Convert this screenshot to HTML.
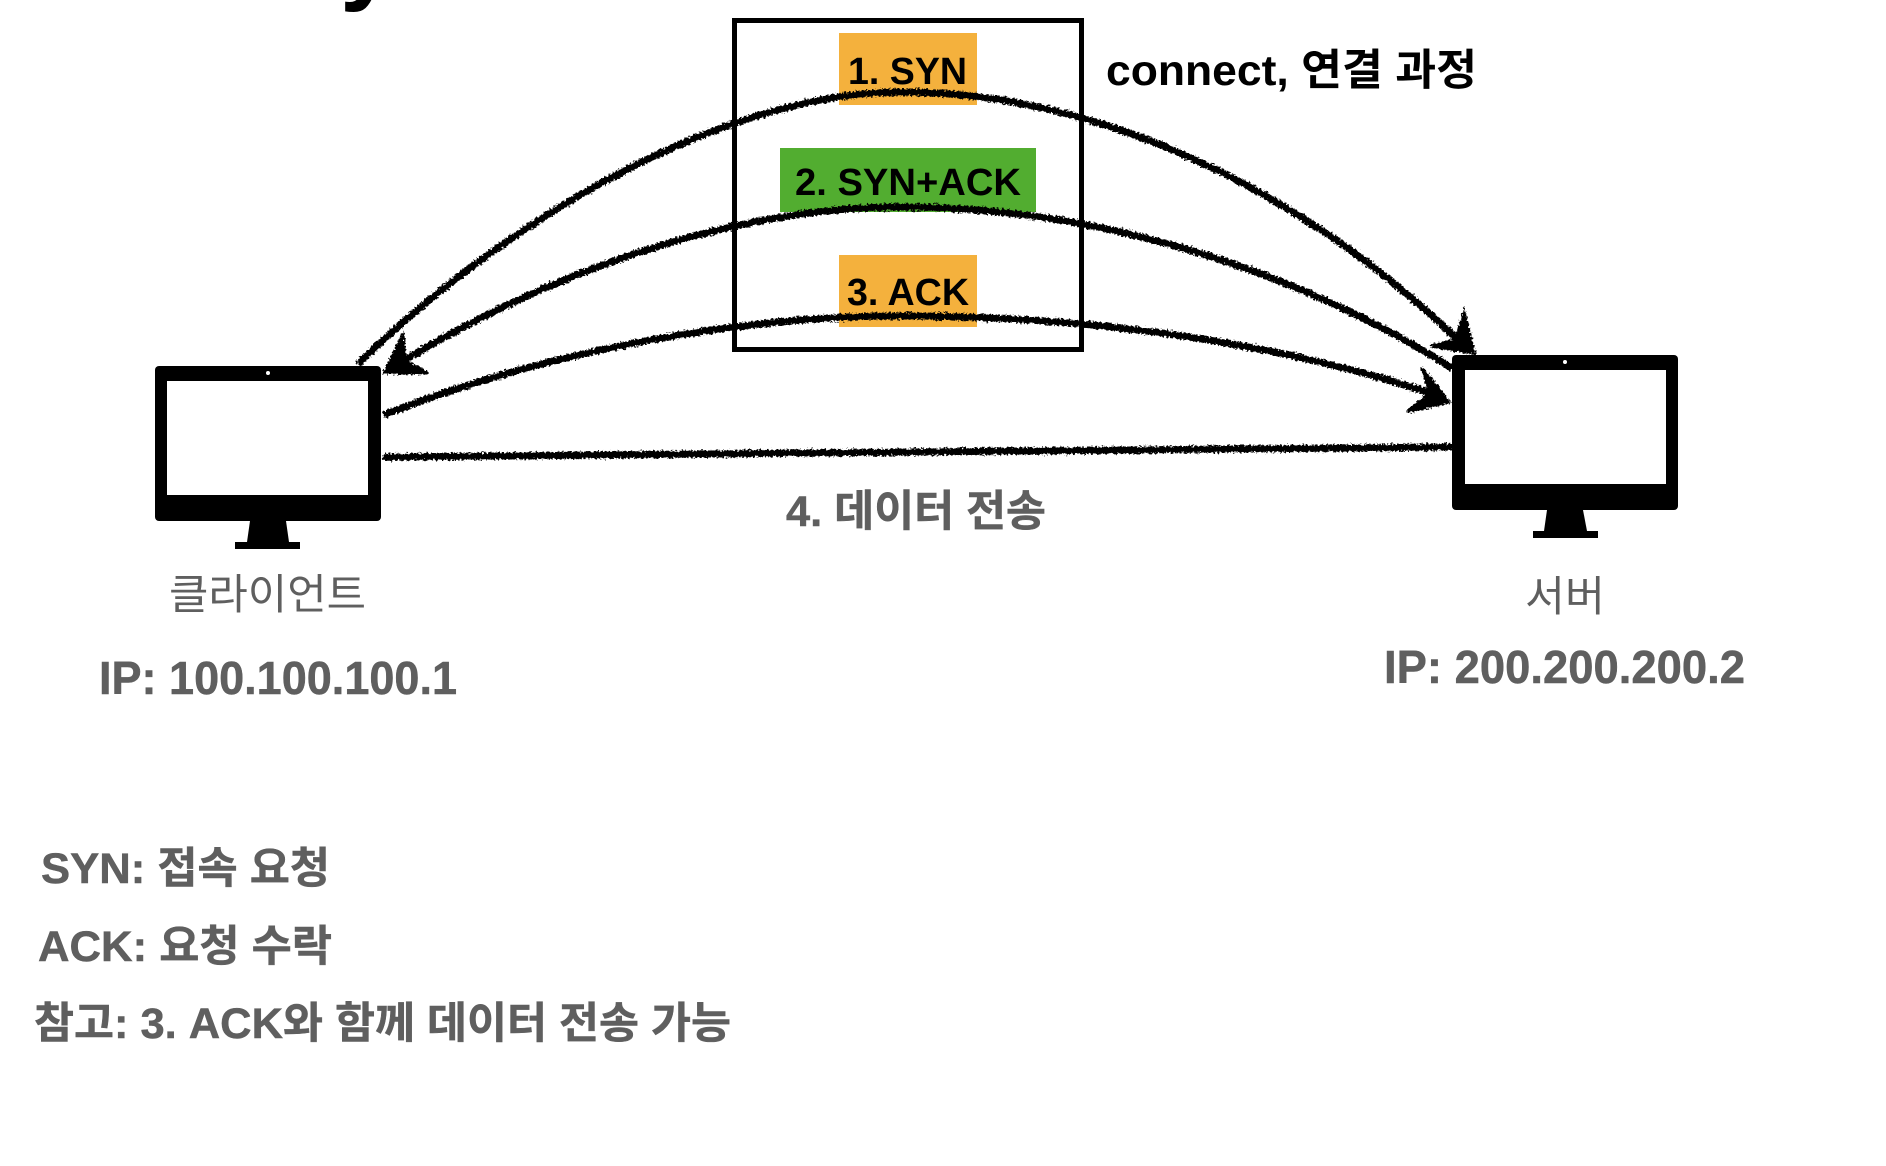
<!DOCTYPE html>
<html lang="ko">
<head>
<meta charset="utf-8">
<title>TCP 3 way handshake</title>
<style>
html,body{margin:0;padding:0;background:#fff;width:1886px;height:1166px;overflow:hidden}
svg{display:block}
text{font-family:"Liberation Sans","Noto Sans CJK KR",sans-serif;font-weight:700}
.g{fill:#5f5f5f;stroke:#5f5f5f;stroke-width:.5}
.r{font-weight:400;fill:#5f5f5f}
</style>
</head>
<body>
<svg width="1886" height="1166" viewBox="0 0 1886 1166" xmlns="http://www.w3.org/2000/svg">
<defs>
<filter id="rough" filterUnits="userSpaceOnUse" x="0" y="0" width="1886" height="1166">
<feTurbulence type="fractalNoise" baseFrequency="0.45" numOctaves="2" seed="4" result="n"/>
<feDisplacementMap in="SourceGraphic" in2="n" scale="6" xChannelSelector="R" yChannelSelector="G"/>
</filter>
</defs>
<rect width="1886" height="1166" fill="#fff"/>
<text x="340" y="-9" font-size="100" fill="#000">y</text>

<rect x="734.5" y="20.5" width="347" height="329" fill="none" stroke="#000" stroke-width="5"/>
<rect x="839" y="33" width="138" height="72" fill="#F4B13D"/>
<rect x="780" y="148" width="256" height="64" fill="#52AD30"/>
<rect x="839" y="255" width="138" height="72" fill="#F4B13D"/>

<text x="848" y="84" font-size="38" fill="#000" textLength="119" lengthAdjust="spacingAndGlyphs">1. SYN</text>
<text x="795" y="195" font-size="38" fill="#000" textLength="226" lengthAdjust="spacingAndGlyphs">2. SYN+ACK</text>
<text x="847" y="305" font-size="38" fill="#000" textLength="122" lengthAdjust="spacingAndGlyphs">3. ACK</text>
<text x="1106" y="85" font-size="43" fill="#000" textLength="371" lengthAdjust="spacingAndGlyphs">connect, 연결 과정</text>

<g filter="url(#rough)" fill="none" stroke="#000" stroke-width="7" stroke-linecap="round">
<path d="M360 362C500 225 720 92 902 92C1120 92 1330 212 1466 348"/>
<path d="M1450 367C1300 272 1100 207 902 207C720 207 530 282 392 368"/>
<path d="M386 414C530 358 720 316 902 316C1100 316 1290 345 1442 397"/>
<path d="M386 457Q943 452 1450 447"/>
<path d="M384 373L403 335L405 361L428 373Z" fill="#000" stroke-width="3"/>
<path d="M1474 353L1464 312L1456 340L1431 346Z" fill="#000" stroke-width="3"/>
<path d="M1449 402L1422 368L1430 393L1407 412Z" fill="#000" stroke-width="3"/>
</g>

<!-- client monitor -->
<rect x="155" y="366" width="226" height="155" rx="4" fill="#000"/>
<rect x="167" y="381" width="201" height="114" fill="#fff"/>
<ellipse cx="268" cy="373" rx="2" ry="2" fill="#fff"/>
<polygon points="250,521 286,521 289,542 247,542" fill="#000"/>
<rect x="235" y="542" width="65" height="7" fill="#000"/>

<!-- server monitor -->
<rect x="1452" y="355" width="226" height="155" rx="4" fill="#000"/>
<rect x="1465" y="370" width="201" height="114" fill="#fff"/>
<ellipse cx="1565" cy="362" rx="2" ry="2" fill="#fff"/>
<polygon points="1547,510 1583,510 1587,531 1544,531" fill="#000"/>
<rect x="1533" y="531" width="65" height="7" fill="#000"/>

<text class="g" x="786" y="526" font-size="43" textLength="260" lengthAdjust="spacingAndGlyphs">4. 데이터 전송</text>
<text class="r" x="169" y="609" font-size="42" textLength="197" lengthAdjust="spacingAndGlyphs">클라이언트</text>
<text class="g" x="99" y="694" font-size="46" textLength="358" lengthAdjust="spacingAndGlyphs">IP: 100.100.100.1</text>
<text class="r" x="1525" y="611" font-size="42" textLength="80" lengthAdjust="spacingAndGlyphs">서버</text>
<text class="g" x="1392" y="683" font-size="46" textLength="361" lengthAdjust="spacingAndGlyphs" transform="translate(-8 0)">IP: 200.200.200.2</text>
<text class="g" x="41" y="883" font-size="43" textLength="289" lengthAdjust="spacingAndGlyphs">SYN: 접속 요청</text>
<text class="g" x="38" y="961" font-size="43" textLength="294" lengthAdjust="spacingAndGlyphs">ACK: 요청 수락</text>
<text class="g" x="34" y="1038" font-size="43" textLength="697" lengthAdjust="spacingAndGlyphs">참고: 3. ACK와 함께 데이터 전송 가능</text>
</svg>
</body>
</html>
